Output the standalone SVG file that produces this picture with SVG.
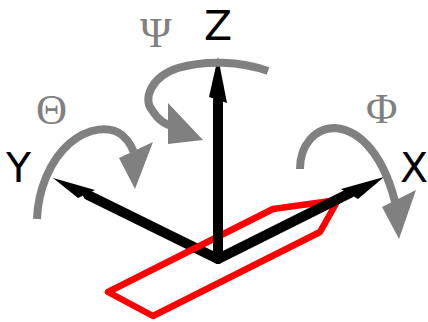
<svg xmlns="http://www.w3.org/2000/svg" width="428" height="322" viewBox="0 0 428 322">
<style>
.axis{font-family:"DejaVu Sans",sans-serif;font-size:41px;fill:#000}
.angle{font-family:"Liberation Serif",serif;font-size:43px;fill:#808080}
.arc{fill:none;stroke:#808080;stroke-width:8}
.ln{fill:none;stroke:#000;stroke-width:10;stroke-linecap:round}
.ax{fill:#000;stroke:none}
.head{fill:#808080;stroke:none}
</style>
<rect width="428" height="322" fill="#fff"/>
<g id="connectors">
<g id="axis-y"><path class="ln" d="M88 195L218 259"/><polygon class="ax" points="53,178 95,190 78,198"/></g>
<polygon id="body" points="273,209 338,200 320,232 153,316 108,292" fill="none" stroke="#f00" stroke-width="6.500" stroke-linejoin="round"/>
<g id="axis-z"><path class="ln" d="M218 100L218 258"/><polygon class="ax" points="218,57 227,103 209,97"/></g>
<g id="axis-x"><path class="ln" d="M218 259L350 193"/><polygon class="ax" points="384,177 341,189 358,199"/></g>
<g id="rot-psi"><path class="arc" d="M268 71C240 61 205 60 178 68C150 77 143 100 152 110C158 120 165 125 175 127"/><polygon class="head" points="168,103 203,140 168,144"/></g>
<g id="rot-theta"><path class="arc" d="M37 219C38 190 50 160 70 143C88 128 110 125 122 135C129 141 134 150 136 160"/><polygon class="head" points="153,142 135,189 119,158"/></g>
<g id="rot-phi"><path class="arc" d="M300 169C300 145 315 128 335 128C360 130 385 155 397 210"/><polygon class="head" points="416,190 399,239 382,207"/></g>
</g>
<g id="label-z"><text class="axis" x="204" y="40">Z</text></g>
<g id="label-y"><text class="axis" x="6" y="182">Y</text></g>
<g id="label-x"><text class="axis" x="400" y="182">X</text></g>
<g id="label-psi"><text class="angle" x="140" y="47">Ψ</text></g>
<g id="label-theta"><text class="angle" x="36" y="124">Θ</text></g>
<g id="label-phi"><text class="angle" x="366" y="123">Φ</text></g>
</svg>
